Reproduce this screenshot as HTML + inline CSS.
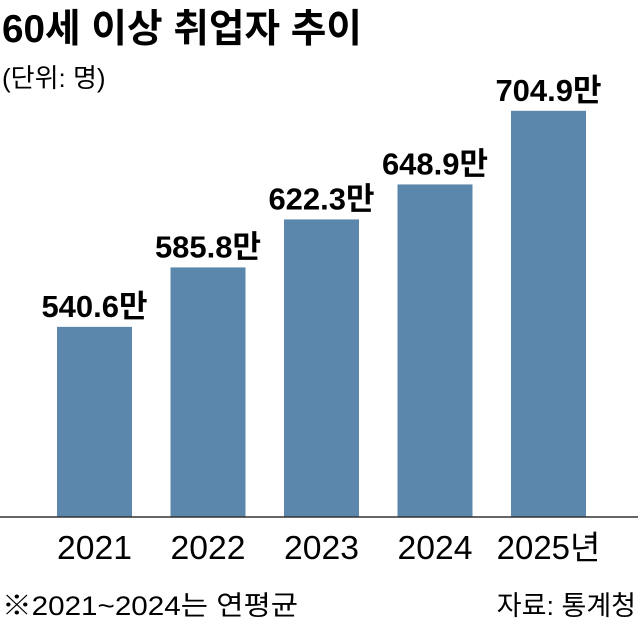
<!DOCTYPE html>
<html><head><meta charset="utf-8"><style>
body{margin:0;background:#fff;width:638px;height:621px;overflow:hidden;font-family:"Liberation Sans","Noto Sans CJK KR",sans-serif}
</style></head><body>
<svg width="638" height="621" xmlns="http://www.w3.org/2000/svg">
<text x="2" y="42" font-size="39" font-weight="bold" font-family="Liberation Sans, Noto Sans CJK KR, sans-serif" textLength="360" lengthAdjust="spacingAndGlyphs">60세 이상 취업자 추이</text>
<text x="2" y="87" font-size="26" font-family="Liberation Sans, Noto Sans CJK KR, sans-serif">(단위: 명)</text>
<g id="bars"></g>
<line x1="0" y1="517" x2="638" y2="517" stroke="#333" stroke-width="1.5"/>
<text x="2" y="615" font-size="27" font-family="Liberation Sans, Noto Sans CJK KR, sans-serif" textLength="296" lengthAdjust="spacingAndGlyphs">※2021~2024는 연평균</text>
<text x="636" y="615" text-anchor="end" font-size="27" font-family="Liberation Sans, Noto Sans CJK KR, sans-serif">자료: 통계청</text>
</svg>
<script>
const categories = ["2021","2022","2023","2024","2025년"];
const values = [540.6,585.8,622.3,648.9,704.9];
const valueLabels = ["540.6만","585.8만","622.3만","648.9만","704.9만"];
const ns="http://www.w3.org/2000/svg";
const baseY=517, zeroVal=396, pxPer=1.315;
function yScale(v){return baseY-(v-zeroVal)*pxPer;}
function xScale(i){return 57+i*113.5;}
const bw=75;
const g=document.getElementById('bars');
const ff="Liberation Sans, Noto Sans CJK KR, sans-serif";
categories.forEach((c,i)=>{
  const x=xScale(i), y=yScale(values[i]);
  const r=document.createElementNS(ns,'rect');
  r.setAttribute('x',x);r.setAttribute('y',y);r.setAttribute('width',bw);r.setAttribute('height',baseY-y);
  r.setAttribute('fill','#5b87ad');
  
  
  g.appendChild(r);
  const t=document.createElementNS(ns,'text');
  t.setAttribute('x',x+bw/2);t.setAttribute('y',y-10);t.setAttribute('text-anchor','middle');
  t.setAttribute('font-size','31');t.setAttribute('font-weight','bold');t.setAttribute('font-family',ff);
  t.textContent=valueLabels[i];
  
  
  g.appendChild(t);
  const l=document.createElementNS(ns,'text');
  l.setAttribute('x',x+bw/2);l.setAttribute('y',559);l.setAttribute('text-anchor','middle');
  l.setAttribute('font-size','33');l.setAttribute('font-family',ff);
  if(i<4){l.setAttribute('textLength','75');l.setAttribute('lengthAdjust','spacingAndGlyphs');}
  l.textContent=c;
  
  
  g.appendChild(l);
});
</script>
</body></html>
